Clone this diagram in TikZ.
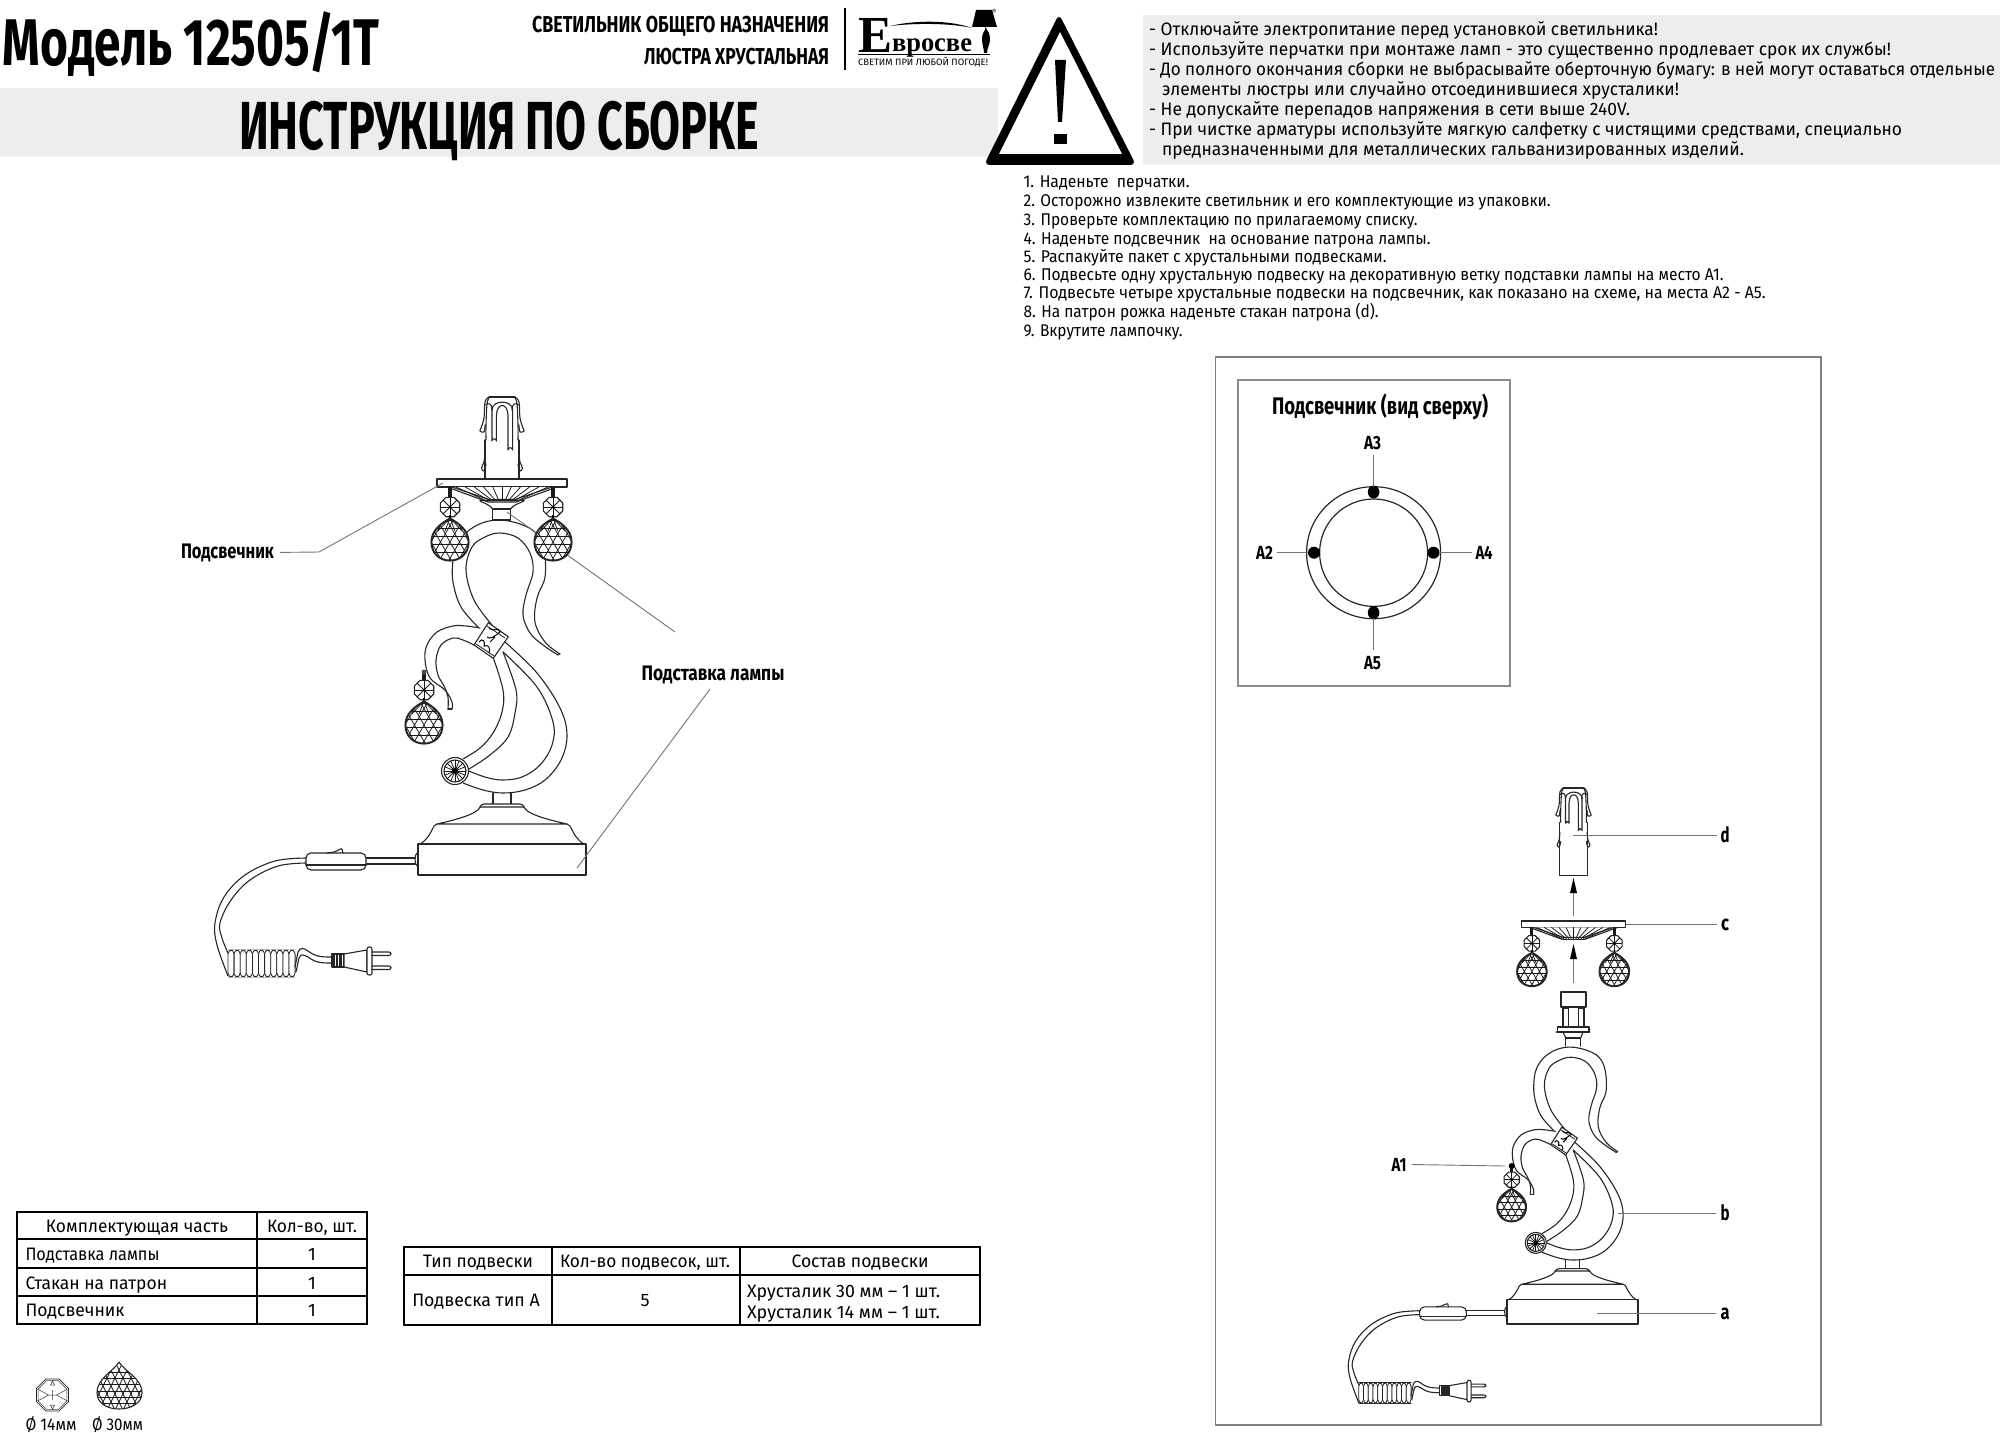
\documentclass[tikz,border=0pt]{standalone}
\usepackage{graphicx}
\usepackage{fontspec}
\setmainfont{Fira Sans}
\newfontfamily\din{Fira Sans}
\newfontfamily\serifb{Liberation Serif}
\newsavebox\fbx
\newcommand\fitw[2]{\sbox\fbx{#2}\pgfmathsetmacro{\fitr}{(#1*0.5)/(\wd\fbx)}\scalebox{\fitr}[1]{\usebox\fbx}}
\tikzset{
 ln/.style={line width=.55pt,black!85,line join=round,line cap=round},
 thin ln/.style={line width=.38pt,black!90},
 lead/.style={line width=.45pt,black!55},
 txt/.style={inner sep=0,outer sep=0,anchor=base west,font=\din\fontsize{9}{9}\selectfont,text=black},
 ctxt/.style={txt,anchor=base},
 bold/.style={inner sep=0,outer sep=0,anchor=base west,font=\din\bfseries\fontsize{10.5}{10.5}\selectfont,text=black},
 cbold/.style={bold,anchor=base},
 tb/.style={line width=1.15pt,black}
}
% ---- crystal: octagon + ball, origin at octagon centre
\newcommand\Octa[3]{\draw[ln,fill=white,shift={(#1,#2)}] (22.5:#3)--(67.5:#3)--(112.5:#3)--(157.5:#3)--(202.5:#3)--(247.5:#3)--(292.5:#3)--(337.5:#3)--cycle;}
\newcommand\BallPath{(0,11) .. controls (9,16) and (19,23) .. (19,35) .. controls (19,47) and (10,54) .. (0,54) .. controls (-10,54) and (-19,47) .. (-19,35) .. controls (-19,23) and (-9,16) .. (0,11) -- cycle}
\newcommand\Crystal[2]{\begin{scope}[shift={(#1,#2)}]
 \draw[line width=.7pt,black!90] (-1,-20)--(-1,-9) (1,-20)--(1,-9);
 \Octa{0}{0}{10.5}
 \foreach \a in {0,45,...,315}{\draw[thin ln] (0,0)--(\a:10);}
 \fill[black] (0,0) circle (1.5);
 \draw[line width=.7pt] (0,8)--(0,13);
 \fill[white] \BallPath;
 \begin{scope}
  \clip \BallPath;
  \foreach \k in {-5,...,5}{\draw[thin ln] (\k*9.5-17.35,5)--(\k*9.5+17.35,65) (\k*9.5+17.35,5)--(\k*9.5-17.35,65);}
  \foreach \i in {0,...,6}{\draw[thin ln] (-25,13+8.2*\i)--(25,13+8.2*\i);}
  \foreach \x in {-12,-5,5,12}{\draw[thin ln] (0,11)--(\x,24);}
  \draw[line width=1.4pt,black!85] \BallPath;
 \end{scope}
 \draw[ln] \BallPath;
\end{scope}}
% ---- candle cup
\newcommand\CupSide{
 \draw[ln] plot[smooth,tension=.6] coordinates {(489,397)(485,402)(484,418)(481,428)(480,431)(484,432)(485,425)};
 \draw[ln] plot[smooth,tension=.6] coordinates {(489,398)(487,404)(486,425)(486,440)};
 \draw[ln] plot[smooth,tension=.6] coordinates {(485,452)(484,462)(481.5,468)(484,471)(486,464)};
 \draw[ln] (485.5,405) .. controls (488,402.5) and (492,403) .. (492,410);
}
\newcommand\Cup[1]{
 \draw[ln] (489,397)--(515,397);
 \draw[ln] (485,440)--(485,#1)--(519,#1)--(519,440);
 \CupSide
 \begin{scope}[shift={(1004,0)},xscale=-1]\CupSide\end{scope}
 \draw[ln] (492,408)--(492,441) arc[start angle=180,end angle=0,x radius=2.2,y radius=-2.2]--(496.4,416) .. controls (496.4,402) and (508,402) .. (508,416)--(508,450) arc[start angle=180,end angle=0,x radius=2.3,y radius=-2.3]--(512.6,408);
 \draw[ln] (492,410) .. controls (492,399.5) and (512.6,399.5) .. (512.6,410);
}
% ---- candle dish
\newcommand\Dish{
 \draw[ln,fill=white] (437,479) rectangle (567,487);
 \draw[ln,fill=white] (447,487)--(488,502)--(516,502)--(557,487);
 \draw[ln] (452,487)--(489,499.5)--(515,499.5)--(552,487);
 \foreach \k in {-5,...,5}{\draw[thin ln] (502+\k*3,501)--(502+\k*9.2,487);}
}
% ---- lamp body
\newcommand\Rosette[2]{\begin{scope}[shift={(#1,#2)}]
 \draw[ln,fill=white] (0,0) circle (13.5);
 \draw[ln] (0,0) circle (11);
 \foreach \a in {0,22.5,...,337.5}{\draw[thin ln] (0,0)--(\a:11);}
 \fill[black] (0,0) circle (3);
\end{scope}}
\newcommand\Body{
 \draw[ln] plot[smooth,tension=.6] coordinates {(492,625)(474,600)(466,570)(472,547)(485,537)(500,533)(518,538)(530,553)(533,572)(526,595)(523,615)(530,633)(543,645)(558,655)};
 \draw[ln] plot[smooth,tension=.6] coordinates {(478,627)(461,607)(453,582)(453,560)(457,545)(467,532)(482,523)(500,520)(520,524)(536,533)(544,550)(545,577)(537,598)(535,622)(545,642)(560,654)};
 \draw[ln] (558,655)--(560,654);
 \draw[ln] plot[smooth,tension=.6] coordinates {(480,628)(466,626)(453,626)(437,632)(427,645)(425,660)(430,678)(445,690)(452,702)(452,709)};
 \draw[ln] plot[smooth,tension=.6] coordinates {(474,645)(463,640)(453,638)(441,645)(436,660)(438,675)(444,686)(448,697)(448,709)};
 \draw[ln] (448,709)--(452,709);
 \draw[ln] plot[smooth,tension=.6] coordinates {(505,642)(537,673)(560,708)(567,735)(561,760)(545,780)(525,790)(503,793)(483,790)(463,783)};
 \draw[ln] plot[smooth,tension=.6] coordinates {(503,652)(537,687)(553,722)(552,745)(540,765)(522,777)(502,780)(485,777)(469,771)};
 \draw[ln] plot[smooth,tension=.6] coordinates {(493,657)(503,690)(502,712)(493,733)(480,748)(463,759)};
 \draw[ln] plot[smooth,tension=.6] coordinates {(503,652)(516,690)(515,713)(508,737)(490,755)(469,769)};
 % band
 \draw[ln,fill=white] (488.3,622.7)--(508.3,636.7)--(493.3,658.3)--(474,645)--cycle;
 \draw[thin ln] (487,626)--(505,638) (476,644)--(494,656);
 \draw[line width=.5pt] (489,628) .. controls (495,633) and (497,626) .. (500,632) .. controls (495,636) and (490,640) .. (487,637) (495,637)--(490,642);
 \draw[line width=.5pt] (479,642) .. controls (482,637) and (486,642) .. (484,646) .. controls (488,644) and (491,648) .. (489,653);
 \Rosette{455}{771}
}
% ---- base
\newcommand\Base{
 \draw[ln] (493,793)--(493,804) (511,793)--(511,804);
 \draw[ln,fill=white,rounded corners=1.5] (480,807)--(481,804)--(523,804)--(524,807);
 \draw[ln] (480,807) .. controls (478,814) and (455,820) .. (437,824) -- (567,824) .. controls (549,820) and (526,814) .. (524,807)--cycle;
 \draw[ln] (437,824)--(434,826) .. controls (430,834) and (427,840) .. (420,844);
 \draw[ln] (567,824)--(570,826) .. controls (574,834) and (577,840) .. (584,844);
 \draw[ln] (418,844)--(420,844)--(584,844)--(586,844)--(586,875)--(418,875)--cycle;
}
% ---- cord, switch, plug
\newcommand\Cord{
 \draw[ln] (418,852) .. controls (414,854) and (414,865) .. (418,867);
 \draw[ln] (366,858)--(415,858) (366,864)--(415,864);
 \draw[ln,fill=white,rounded corners=2.5] (306,853)--(366,853)--(366,870)--(306,870)--cycle;
 \draw[ln] (306,865)--(366,865);
 \draw[ln] (327,853)--(334,852) .. controls (338,851) and (340,848) .. (342,849) -- (343,853);
 \draw[ln] plot[smooth,tension=.6] coordinates {(306,858)(275,861)(245,875)(224,897)(215,923)(217,945)(228,976)};
 \draw[ln] plot[smooth,tension=.6] coordinates {(306,863)(278,866)(250,880)(231,900)(220,923)(222,938)(228,953)};
 \foreach \k in {0,...,10}{\draw[line width=.4pt,black!85,fill=white,rounded corners=2] (228+\k*6.1,950) rectangle ++(6.1,27);}
 \draw[ln] (295,967)--(298,952) .. controls (300,947) and (304,948) .. (308,951) .. controls (316,957) and (322,957) .. (332,957);
 \draw[ln] (296,972)--(299,958) .. controls (301,953) and (304,955) .. (308,957) .. controls (316,963) and (322,963) .. (332,963);
 \draw[ln,fill=white] (332,954) rectangle (344,967);
 \foreach \k in {0,...,7}{\draw[line width=.55pt,black!85] (333.5+\k*1.4,954)--(333.5+\k*1.4,967);}
 \draw[ln,fill=white] (344,954)--(367,950)--(367,972)--(344,967)--cycle;
 \draw[ln,fill=white,rounded corners=1] (367,947) rectangle (372,975);
 \draw[ln,rounded corners=1] (372,952)--(391,952)--(391,955.5)--(372,955.5);
 \draw[ln,rounded corners=1] (372,966)--(391,966)--(391,969.5)--(372,969.5);
}
\begin{document}
\begin{tikzpicture}[x=.5pt,y=-.5pt]
\useasboundingbox (0,0) rectangle (2000,1433);
% header
\fill[black!7] (0,88) rectangle (998,157);
\fill[black!7] (1143,15) rectangle (2000,165);
\node[bold,font=\din\bfseries\fontsize{33}{33}\selectfont] (model) at (3,66) {\fitw{376}{Модель 12505/1Т}};
\node[bold,font=\din\bfseries\fontsize{34}{34}\selectfont] (title) at (239,150) {\fitw{520}{ИНСТРУКЦИЯ ПО СБОРКЕ}};
\node[bold,font=\din\bfseries\fontsize{11.5}{11.5}\selectfont] (kind1) at (532,33) {\fitw{297}{СВЕТИЛЬНИК ОБЩЕГО НАЗНАЧЕНИЯ}};
\node[bold,font=\din\bfseries\fontsize{11.5}{11.5}\selectfont] (kind2) at (644,65) {\fitw{185}{ЛЮСТРА ХРУСТАЛЬНАЯ}};
\draw[line width=1.3pt] (845,8)--(845,70);
% logo
\node[txt,font=\serifb\bfseries\fontsize{26}{26}\selectfont] (logoE) at (858,53) {\fitw{34}{Е}};
\node[txt,font=\serifb\bfseries\fontsize{13.5}{13.5}\selectfont] (logoT) at (892,52) {\fitw{80}{вросве}};
\node[txt,font=\din\fontsize{4.6}{4.6}\selectfont] (logoS) at (858,66) {\fitw{130}{СВЕТИМ ПРИ ЛЮБОЙ ПОГОДЕ!}};
\node[txt,font=\din\fontsize{3.5}{3.5}\selectfont] (logoR) at (992,15) {®};
\draw[line width=.4pt] (858,54.5)--(990,54.5);
\fill[black] (890,26) .. controls (915,20) and (950,20) .. (972,28) .. controls (950,23) and (915,23) .. (890,26)--cycle;
\fill[black] (976,10)--(992,10)--(997,27)--(972,27)--cycle;
\fill[black] (985.5,27) -- (987,30) .. controls (988,31) and (990,34) .. (990,39) .. controls (990,45) and (987,48) .. (987,53)--(984,53) .. controls (984,48) and (982,45) .. (982,39) .. controls (982,34) and (984,31) .. (985,30)--cycle;
% warning triangle
\fill[black,rounded corners=3] (1059,14)--(1136,165)--(984,165)--cycle;
\fill[white] (1060,32)--(1122,154)--(999,154)--cycle;
\fill[black] (1055,60)--(1066,60)--(1062,122)--(1058,122)--cycle;
\fill[black] (1054,134) rectangle (1067,144);
% warning text
\node[txt] (w1) at (1149,36) {\fitw{509}{- Отключайте электропитание перед установкой светильника!}};
\node[txt] (w2) at (1149,56) {\fitw{742}{- Используйте перчатки при монтаже ламп - это существенно продлевает срок их службы!}};
\node[txt] (w3) at (1149,76) {\fitw{846}{- До полного окончания сборки не выбрасывайте оберточную бумагу: в ней могут оставаться отдельные}};
\node[txt] (w4) at (1162,96) {\fitw{517}{элементы люстры или случайно отсоединившиеся хрусталики!}};
\node[txt] (w5) at (1149,116) {\fitw{481}{- Не допускайте перепадов напряжения в сети выше 240V.}};
\node[txt] (w6) at (1149,136) {\fitw{753}{- При чистке арматуры используйте мягкую салфетку с чистящими средствами, специально}};
\node[txt] (w7) at (1162,156) {\fitw{582}{предназначенными для металлических гальванизированных изделий.}};
% steps
\tikzset{st/.style={txt,font=\din\fontsize{8.5}{8.5}\selectfont}}
\node[st] (s1) at (1023.6,188) {\fitw{166}{1. Наденьте\ \ перчатки.}};
\node[st] (s2) at (1023.6,207) {\fitw{527}{2. Осторожно извлеките светильник и его комплектующие из упаковки.}};
\node[st] (s3) at (1023.6,226) {\fitw{394}{3. Проверьте комплектацию по прилагаемому списку.}};
\node[st] (s4) at (1023.6,244.5) {\fitw{407}{4. Наденьте подсвечник\ \ на основание патрона лампы.}};
\node[st] (s5) at (1023.6,263) {\fitw{363}{5. Распакуйте пакет с хрустальными подвесками.}};
\node[st] (s6) at (1023.6,281) {\fitw{700}{6. Подвесьте одну хрустальную подвеску на декоративную ветку подставки лампы на место А1.}};
\node[st] (s7) at (1023.6,299) {\fitw{742}{7. Подвесьте четыре хрустальные подвески на подсвечник, как показано на схеме, на места А2 - А5.}};
\node[st] (s8) at (1023.6,317.5) {\fitw{355}{8. На патрон рожка наденьте стакан патрона (d).}};
\node[st] (s9) at (1023.6,336) {\fitw{159}{9. Вкрутите лампочку.}};
% ---------- left lamp
\Base
\Cord
\Body
\Cup{479}
\Dish
\draw[ln] (480,501) .. controls (484,503) and (490,505) .. (492.7,509)--(510.5,509) .. controls (513,505) and (520,503) .. (524,501);
\draw[ln] (480,500.5)--(524,500.5);
\draw[ln] (492.7,509) rectangle (510.5,520);
\node[bold] (lpod) at (181,558) {\fitw{93}{Подсвечник}};
\coordinate (lpodA) at (319,552);
\coordinate (lpodB) at (443,483);
\draw[lead,shorten <=3pt] (lpod.east)--(lpodA)--(lpodB);
\node[bold] (lbase) at (641.5,680) {\fitw{143}{Подставка лампы}};
\coordinate (lbaseA) at (507,512);
\coordinate (lbaseB) at (675,632);
\coordinate (lbaseC) at (710,689);
\coordinate (lbaseD) at (577,868);
\draw[lead] (lbaseA)--(lbaseB);
\draw[lead] (lbaseC)--(lbaseD);
\Crystal{450}{507}
\Crystal{553}{507}
\Crystal{424}{690}
\fill[black!70] (424,672) circle (2.5);
% ---------- tables
\draw[tb] (17,1212) rectangle (367,1324);
\draw[tb] (17,1239)--(367,1239) (17,1268)--(367,1268) (17,1296)--(367,1296) (257,1212)--(257,1324);
\node[ctxt] (t11) at (137,1232) {\fitw{182}{Комплектующая часть}};
\node[ctxt] (t12) at (312,1232) {\fitw{90}{Кол-во, шт.}};
\node[txt] (t21) at (25.5,1260) {\fitw{134}{Подставка лампы}};
\node[txt] (t31) at (25.5,1289) {\fitw{141.6}{Стакан на патрон}};
\node[txt] (t41) at (25.5,1316.5) {\fitw{99}{Подсвечник}};
\node[ctxt] (t22) at (312,1260) {1};
\node[ctxt] (t32) at (312,1289) {1};
\node[ctxt] (t42) at (312,1316.5) {1};
\draw[tb] (404,1247) rectangle (980,1325);
\draw[tb] (404,1275)--(980,1275) (552,1247)--(552,1325) (740,1247)--(740,1325);
\node[ctxt] (u11) at (478,1267) {\fitw{110}{Тип подвески}};
\node[ctxt] (u12) at (645,1267) {\fitw{170}{Кол-во подвесок, шт.}};
\node[ctxt] (u13) at (860,1267) {\fitw{137}{Состав подвески}};
\node[ctxt] (u21) at (476,1306) {\fitw{127.5}{Подвеска тип А}};
\node[ctxt] (u22) at (645,1306) {5};
\node[txt] (u23) at (747,1297) {\fitw{193}{Хрусталик 30 мм – 1 шт.}};
\node[txt] (u24) at (747,1318) {\fitw{193}{Хрусталик 14 мм – 1 шт.}};
% ---------- crystals legend
\begin{scope}[shift={(52.5,1395)}]
 \draw[ln,line width=.4pt] (22.5:17.3)--(67.5:17.3)--(112.5:17.3)--(157.5:17.3)--(202.5:17.3)--(247.5:17.3)--(292.5:17.3)--(337.5:17.3)--cycle;
 \draw[line width=.25pt,black!80] (22.5:15.5)--(67.5:15.5)--(112.5:15.5)--(157.5:15.5)--(202.5:15.5)--(247.5:15.5)--(292.5:15.5)--(337.5:15.5)--cycle;
 \draw[line width=.25pt,black!80] (-4,0)--(4,0) (0,-5)--(0,5) (-4,0)--(-15,-6) (-4,0)--(-15,6) (4,0)--(15,-6) (4,0)--(15,6) (-2,-10)--(0,-14)--(2,-10)--cycle (-2,10)--(0,14)--(2,10)--cycle;
\end{scope}
\begin{scope}
 \clip (119,1362) .. controls (125,1372) and (142,1378) .. (142,1393) .. controls (142,1403) and (131,1409) .. (119,1409) .. controls (107,1409) and (97,1403) .. (97,1393) .. controls (97,1378) and (113,1372) .. (119,1362)--cycle;
 \foreach \k in {-6,...,6}{\draw[thin ln] (119+\k*8-13,1360)--(119+\k*8+13,1412) (119+\k*8+13,1360)--(119+\k*8-13,1412);}
 \foreach \i in {0,...,6}{\draw[thin ln] (90,1372+6.3*\i)--(150,1372+6.3*\i);}
\end{scope}
\draw[ln] (119,1362) .. controls (125,1372) and (142,1378) .. (142,1393) .. controls (142,1403) and (131,1409) .. (119,1409) .. controls (107,1409) and (97,1403) .. (97,1393) .. controls (97,1378) and (113,1372) .. (119,1362)--cycle;
\node[txt,font=\din\fontsize{8.5}{8.5}\selectfont] (d14) at (25.5,1430) {\fitw{51}{Ø 14мм}};
\node[txt,font=\din\fontsize{8.5}{8.5}\selectfont] (d30) at (92,1430) {\fitw{51}{Ø 30мм}};
% ---------- right frame
\draw[line width=.6pt,black!50] (1215.5,357) rectangle (1821,1425);
\draw[line width=.55pt,black!45] (1238,380) rectangle (1510,686);
\node[bold,font=\din\bfseries\fontsize{12}{12}\selectfont] (top) at (1272,414) {\fitw{216}{Подсвечник (вид сверху)}};
\draw[ln,line width=.6pt] (1373.6,552.7) ellipse [x radius=67,y radius=66];
\draw[ln,line width=.6pt] (1373.6,552.7) ellipse [x radius=54,y radius=53.7];
\fill[black] (1373.6,492) ellipse [x radius=5.8,y radius=6.5] (1373.6,612.7) ellipse [x radius=5.8,y radius=6.5] (1314,552.7) ellipse [x radius=6,y radius=6] (1433.5,552.7) ellipse [x radius=6,y radius=6];
\tikzset{ab/.style={cbold,font=\din\bfseries\fontsize{9.5}{9.5}\selectfont}}
\node[ab] (a3) at (1372.5,449) {\fitw{17}{А3}};
\node[ab] (a5) at (1372.5,669) {\fitw{17}{А5}};
\node[ab] (a2) at (1264.5,559) {\fitw{17}{А2}};
\node[ab] (a4) at (1484,559) {\fitw{17}{А4}};
\coordinate (p3) at (1373.6,487);
\coordinate (p3t) at (1373.6,455);
\coordinate (p5) at (1373.6,618);
\coordinate (p5b) at (1373.6,650);
\coordinate (p2) at (1308,552.7);
\coordinate (p2l) at (1277,552.7);
\coordinate (p4) at (1440,552.7);
\coordinate (p4r) at (1472,552.7);
\draw[lead] (p3t)--(p3);
\draw[lead] (p5)--(p5b);
\draw[lead] (p2l)--(p2);
\draw[lead] (p4)--(p4r);
% ---------- exploded lamp
\begin{scope}[shift={(1180.9,641.5)},scale=.78]
 \Base
 \Cord
 \Body
 \Crystal{424}{690}
\end{scope}
\fill[black] (1511.7,1166) circle (3);
% neck of exploded lamp
\draw[ln] (1565.7,1046)--(1565.7,1038)--(1580.7,1038)--(1580.7,1046);
\draw[ln] (1563,1032)--(1565.7,1038) (1583,1032)--(1580.7,1038) (1556,1032)--(1590,1032);
\draw[ln,fill=white] (1557.5,1027) rectangle (1589,1032);
\draw[ln,fill=white] (1561,992) rectangle (1586,1007);
\draw[ln] (1562.5,1007)--(1562.5,1027) (1584.5,1007)--(1584.5,1027);
\draw[ln] (1563.5,1008) rectangle (1568.5,1027);
\draw[ln] (1578.5,1008) rectangle (1583.5,1027);
\begin{scope}[shift={(1171.9,537.8)},scale=.8]
 \Dish
 \Crystal{450}{507}
 \Crystal{553}{507}
\end{scope}
\begin{scope}[shift={(1171.9,470.4)},scale=.8]
 \Cup{506}
\end{scope}
% arrows
\coordinate (ar1a) at (1573.5,916);
\coordinate (ar1b) at (1573.5,893);
\coordinate (ar2a) at (1573.5,983);
\coordinate (ar2b) at (1573.5,959);
\draw[lead] (ar1a)--(ar1b);
\draw[lead] (ar2a)--(ar2b);
\fill[black] (1573.5,878)--(1577,893)--(1570,893)--cycle;
\fill[black] (1573.5,944)--(1577,959)--(1570,959)--cycle;
% right labels
\tikzset{rb/.style={cbold,font=\din\bfseries\fontsize{10.5}{10.5}\selectfont}}
\node[ab,anchor=base west] (la1) at (1391.5,1171) {\fitw{15}{А1}};
\node[rb] (lb) at (1725,1220) {\fitw{9}{b}};
\node[rb] (la) at (1725,1319) {\fitw{9}{a}};
\node[rb] (ld) at (1725,842) {\fitw{9}{d}};
\node[rb] (lc) at (1725,930) {\fitw{8}{c}};
\coordinate (ea1) at (1505,1166);
\coordinate (eb) at (1618,1213);
\coordinate (eb2) at (1716,1213);
\coordinate (ea) at (1597,1313);
\coordinate (ea2) at (1716,1313);
\coordinate (ed) at (1573,835);
\coordinate (ed2) at (1717,835);
\coordinate (ec) at (1626,924);
\coordinate (ec2) at (1717,924);
\draw[lead,shorten <=2.5pt] (la1.east)--(ea1);
\draw[lead] (eb)--(eb2);
\draw[lead] (ea)--(ea2);
\draw[lead] (ed)--(ed2);
\draw[lead] (ec)--(ec2);
\end{tikzpicture}
\end{document}
